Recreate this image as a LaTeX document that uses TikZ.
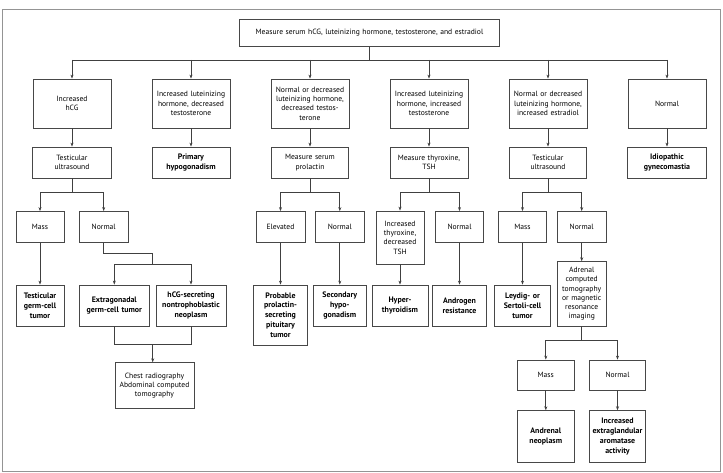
\documentclass[tikz,border=0pt]{standalone}
\usepackage{fontspec}
\setmainfont{PT Sans}
\usetikzlibrary{arrows.meta}
\begin{document}
\begin{tikzpicture}[x=1pt,y=-1pt,
  box/.style={draw=black!72, line width=0.8pt, inner sep=0pt, align=center,
    font=\fontsize{7.6}{9.3}\selectfont},
  bbox/.style={box, font=\fontsize{7.9}{9.8}\selectfont\bfseries},
  ln/.style={draw=black!75, line width=0.7pt},
  arr/.style={ln, -{Stealth[length=4pt,width=3pt]}},
  sz/.style n args={2}{minimum width=#1pt, minimum height=#2pt, text width=#1pt-2pt}
]
\fill[white] (0,0) rectangle (723,473);
\useasboundingbox (0,0) rectangle (723,473);
\draw[black!42, line width=1.3pt] (2.5,9.3) rectangle (720.7,471.7);

% top
\node[box, sz={260}{27}] (top) at (369.5,32.7) {Measure serum hCG, luteinizing hormone, testosterone, and estradiol};

% level 1
\node[box, sz={78}{49}] (l1a) at (72,103.5) {Increased\\hCG};
\node[box, sz={78}{49}] (l1b) at (191,103.5) {Increased luteinizing\\hormone, decreased\\testosterone};
\node[box, sz={78}{49}] (l1c) at (310,103.5) {Normal or decreased\\luteinizing hormone,\\decreased testos-\\terone};
\node[box, sz={78}{49}] (l1d) at (429,103.5) {Increased luteinizing\\hormone, increased\\testosterone};
\node[box, sz={78}{49}] (l1e) at (548,103.5) {Normal or decreased\\luteinizing hormone,\\increased estradiol};
\node[box, sz={78}{49}] (l1f) at (667,103.5) {Normal};

% level 2
\node[box, sz={79}{31}] (l2a) at (72,162.5) {Testicular\\ultrasound};
\node[bbox, sz={78}{31}] (l2b) at (191,162.5) {Primary\\hypogonadism};
\node[box, sz={77}{31}] (l2c) at (310,162.5) {Measure serum\\prolactin};
\node[box, sz={78}{31}] (l2d) at (429,162.5) {Measure thyroxine,\\TSH};
\node[box, sz={77}{31}] (l2e) at (548,162.5) {Testicular\\ultrasound};
\node[bbox, sz={79}{31}] (l2f) at (667,162.5) {Idiopathic\\gynecomastia};

% column 1
\node[box, sz={48}{31}] (m1) at (40,227) {Mass};
\node[box, sz={48.7}{31}] (n1) at (103.7,227) {Normal};
\node[bbox, sz={48}{41}] (tg) at (40,305.5) {Testicular\\germ-cell\\tumor};
\node[bbox, sz={70}{41}] (eg) at (114.3,305.5) {Extragonadal\\germ-cell tumor};
\node[bbox, sz={70}{41}] (hs) at (191,305.5) {hCG-secreting\\nontrophoblastic\\neoplasm};
\node[box, sz={79}{45.6}] (chest) at (154.5,385.5) {Chest radiography\\Abdominal computed\\tomography};

% column 3
\node[box, sz={49}{31}] (el) at (280.5,227) {Elevated};
\node[box, sz={48.7}{31}] (n3) at (339.8,227) {Normal};
\node[bbox, sz={54}{60}] (prob) at (280.5,315) {Probable\\prolactin-\\secreting\\pituitary\\tumor};
\node[bbox, sz={53.4}{41}] (sec) at (339.8,305.5) {Secondary\\hypo-\\gonadism};

% column 4
\node[box, sz={48}{53}] (ith) at (400,237.5) {Increased\\thyroxine,\\decreased\\TSH};
\node[box, sz={47.6}{31}] (n4) at (459.5,227) {Normal};
\node[bbox, sz={56}{41}] (hyp) at (400,305.5) {Hyper-\\thyroidism};
\node[bbox, sz={54}{41}] (andr) at (459.5,305.5) {Androgen\\resistance};

% column 5
\node[box, sz={48.4}{31}] (m5) at (522.5,227) {Mass};
\node[box, sz={48.7}{31}] (n5) at (581.7,227) {Normal};
\node[bbox, sz={56.7}{41}] (ley) at (522.5,305.5) {Leydig- or\\Sertoli-cell\\tumor};
\node[box, sz={48.7}{64.3}] (adr) at (581.7,293.85) {Adrenal\\computed\\tomography\\or magnetic\\resonance\\imaging};
\node[box, sz={56.3}{30}] (m6) at (545.8,375) {Mass};
\node[box, sz={56.4}{30}] (n6) at (617.5,375) {Normal};
\node[bbox, sz={56.3}{52}] (an) at (545.8,436.7) {Andrenal\\neoplasm};
\node[bbox, sz={56.4}{52}] (ie) at (617.5,436.7) {Increased\\extraglandular\\aromatase\\activity};

% connectors: top bus
\coordinate (b0) at (369.5,60);
\draw[ln] (top.south) -- (b0);
\draw[ln] (l1a.north |- b0) -- (l1f.north |- b0);
\foreach \n in {l1a,l1b,l1c,l1d,l1e,l1f} {\draw[arr] (\n.north |- b0) -- (\n.north);}
\draw[arr] (l1a.south) -- (l2a.north);
\draw[arr] (l1b.south) -- (l2b.north);
\draw[arr] (l1c.south) -- (l2c.north);
\draw[arr] (l1d.south) -- (l2d.north);
\draw[arr] (l1e.south) -- (l2e.north);
\draw[arr] (l1f.south) -- (l2f.north);

% column 1
\coordinate (s1) at (72,192.3);
\draw[ln] (l2a.south) -- (s1);
\draw[arr] (s1) -| (m1.north);
\draw[arr] (s1) -| (n1.north);
\draw[arr] (m1.south) -- (tg.north);
\coordinate (j1) at (152.7,253.3);
\coordinate (j2) at (152.7,264);
\draw[ln] (n1.south) |- (j1) -- (j2);
\draw[arr] (j2) -| (eg.north);
\draw[arr] (j2) -| (hs.north);
\coordinate (j3) at (152.7,344);
\draw[ln] (eg.south) |- (j3);
\draw[ln] (hs.south) |- (j3);
\draw[arr] (j3) -- (j3 |- chest.north);

% column 3
\coordinate (s3) at (310,192.3);
\draw[ln] (l2c.south) -- (s3);
\draw[arr] (s3) -| (el.north);
\draw[arr] (s3) -| (n3.north);
\draw[arr] (el.south) -- (prob.north);
\draw[arr] (n3.south) -- (sec.north);

% column 4
\coordinate (s4) at (429,192.3);
\draw[ln] (l2d.south) -- (s4);
\draw[arr] (s4) -| (ith.north);
\draw[arr] (s4) -| (n4.north);
\draw[arr] (ith.south) -- (hyp.north);
\draw[arr] (n4.south) -- (andr.north);

% column 5
\coordinate (s5) at (548,192.3);
\draw[ln] (l2e.south) -- (s5);
\draw[arr] (s5) -| (m5.north);
\draw[arr] (s5) -| (n5.north);
\draw[arr] (m5.south) -- (ley.north);
\draw[arr] (n5.south) -- (adr.north);
\coordinate (j5) at (581.7,340.7);
\draw[ln] (adr.south) -- (j5);
\draw[arr] (j5) -| (m6.north);
\draw[arr] (j5) -| (n6.north);
\draw[arr] (m6.south) -- (an.north);
\draw[arr] (n6.south) -- (ie.north);
\end{tikzpicture}
\end{document}
